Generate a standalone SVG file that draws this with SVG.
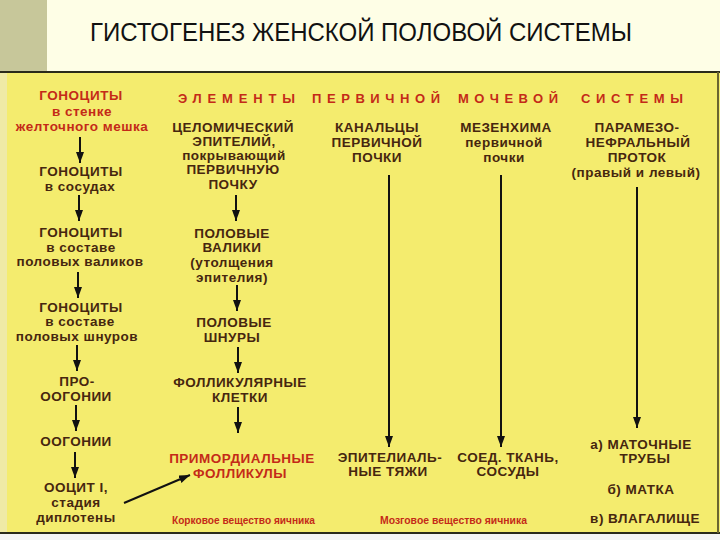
<svg xmlns="http://www.w3.org/2000/svg" width="720" height="540" viewBox="0 0 720 540">
<defs>
<style>
.t{font-family:"Liberation Sans",Arial,sans-serif;font-weight:bold;font-size:13.5px;fill:#46260f;text-anchor:middle;letter-spacing:0.5px}
.r{fill:#c42a18}
.h{font-family:"Liberation Sans",Arial,sans-serif;font-weight:bold;font-size:13px;fill:#c42a18}
.s{font-family:"Liberation Sans",Arial,sans-serif;font-weight:bold;font-size:10px;fill:#c42a18}
.a{stroke:#111;stroke-width:2;fill:none;marker-end:url(#ah)}
</style>
<marker id="ah" markerUnits="userSpaceOnUse" markerWidth="11" markerHeight="8" refX="11" refY="4" orient="auto">
<path d="M0,0 L11,4 L0,8 z" fill="#111"/>
</marker>
</defs>
<rect x="0" y="0" width="720" height="540" fill="#f4f4f4"/>
<rect x="0" y="0" width="720" height="72" fill="#fefee6"/>
<rect x="0" y="0" width="47" height="72" fill="#c7c79a"/>
<text x="90" y="41" textLength="542" lengthAdjust="spacingAndGlyphs" style="font-family:'Liberation Sans',Arial,sans-serif;font-size:26px;fill:#111">ГИСТОГЕНЕЗ ЖЕНСКОЙ ПОЛОВОЙ СИСТЕМЫ</text>
<rect x="0" y="72" width="720" height="461" fill="#f4ec6e"/>
<rect x="0" y="72" width="7" height="461" fill="#efeaa6"/>
<line x1="0" y1="72" x2="720" y2="72" stroke="#2a2a1a" stroke-width="2"/>
<line x1="0" y1="533" x2="720" y2="533" stroke="#2a2a1a" stroke-width="2"/>
<line x1="718" y1="72" x2="718" y2="533" stroke="#6a6530" stroke-width="2"/>

<g id="headers">
<text class="h" x="178" y="103" textLength="117" lengthAdjust="spacing">ЭЛЕМЕНТЫ</text>
<text class="h" x="312" y="103" textLength="128" lengthAdjust="spacing">ПЕРВИЧНОЙ</text>
<text class="h" x="458" y="103" textLength="100" lengthAdjust="spacing">МОЧЕВОЙ</text>
<text class="h" x="581" y="103" textLength="102" lengthAdjust="spacing">СИСТЕМЫ</text>
</g>

<g id="col1">
<text class="t r" x="81" y="100">ГОНОЦИТЫ</text>
<text class="t r" x="82" y="116">в стенке</text>
<text class="t r" x="82" y="131">желточного мешка</text>
<text class="t" x="81" y="176">ГОНОЦИТЫ</text>
<text class="t" x="80" y="191">в сосудах</text>
<text class="t" x="81" y="237">ГОНОЦИТЫ</text>
<text class="t" x="81" y="252">в составе</text>
<text class="t" x="80" y="266">половых валиков</text>
<text class="t" x="81" y="312">ГОНОЦИТЫ</text>
<text class="t" x="80" y="326">в составе</text>
<text class="t" x="77" y="341">половых шнуров</text>
<text class="t" x="77" y="386">ПРО-</text>
<text class="t" x="76" y="401">ООГОНИИ</text>
<text class="t" x="76" y="446">ООГОНИИ</text>
<text class="t" x="76" y="492">ООЦИТ I,</text>
<text class="t" x="76" y="507">стадия</text>
<text class="t" x="76" y="522">диплотены</text>
</g>

<g id="col2">
<text class="t" x="233" y="132">ЦЕЛОМИЧЕСКИЙ</text>
<text class="t" x="234" y="146">ЭПИТЕЛИЙ,</text>
<text class="t" x="234" y="160">покрывающий</text>
<text class="t" x="233" y="174">ПЕРВИЧНУЮ</text>
<text class="t" x="233" y="189">ПОЧКУ</text>
<text class="t" x="232" y="238">ПОЛОВЫЕ</text>
<text class="t" x="232" y="252">ВАЛИКИ</text>
<text class="t" x="232" y="267">(утолщения</text>
<text class="t" x="232" y="282">эпителия)</text>
<text class="t" x="234" y="327">ПОЛОВЫЕ</text>
<text class="t" x="232" y="342">ШНУРЫ</text>
<text class="t" x="240" y="387">ФОЛЛИКУЛЯРНЫЕ</text>
<text class="t" x="240" y="402">КЛЕТКИ</text>
<text class="t r" x="242" y="463">ПРИМОРДИАЛЬНЫЕ</text>
<text class="t r" x="240" y="478">ФОЛЛИКУЛЫ</text>
<text class="s" x="172" y="524" textLength="143" lengthAdjust="spacingAndGlyphs">Корковое вещество яичника</text>
</g>

<g id="col3">
<text class="t" x="377" y="132">КАНАЛЬЦЫ</text>
<text class="t" x="377" y="147">ПЕРВИЧНОЙ</text>
<text class="t" x="377" y="162">ПОЧКИ</text>
<text class="t" x="390" y="462">ЭПИТЕЛИАЛЬ-</text>
<text class="t" x="388" y="476">НЫЕ ТЯЖИ</text>
<text class="s" x="380" y="524" textLength="147" lengthAdjust="spacingAndGlyphs">Мозговое вещество яичника</text>
</g>

<g id="col4">
<text class="t" x="506" y="132">МЕЗЕНХИМА</text>
<text class="t" x="504" y="147">первичной</text>
<text class="t" x="504" y="162">почки</text>
<text class="t" x="508" y="462">СОЕД. ТКАНЬ,</text>
<text class="t" x="508" y="476">СОСУДЫ</text>
</g>

<g id="col5">
<text class="t" x="637" y="132">ПАРАМЕЗО-</text>
<text class="t" x="638" y="147">НЕФРАЛЬНЫЙ</text>
<text class="t" x="637" y="162">ПРОТОК</text>
<text class="t" x="636" y="177">(правый и левый)</text>
<text class="t" x="641" y="449">а) МАТОЧНЫЕ</text>
<text class="t" x="645" y="463">ТРУБЫ</text>
<text class="t" x="641" y="494">б) МАТКА</text>
<text class="t" x="645" y="523">в) ВЛАГАЛИЩЕ</text>
</g>

<g id="connectors">
<line class="a" x1="80" y1="137" x2="80" y2="163"/>
<line class="a" x1="79" y1="195" x2="79" y2="221"/>
<line class="a" x1="78" y1="272" x2="78" y2="298"/>
<line class="a" x1="77" y1="345" x2="77" y2="371"/>
<line class="a" x1="76" y1="405" x2="76" y2="431"/>
<line class="a" x1="75" y1="452" x2="75" y2="478"/>
<line class="a" x1="236" y1="195" x2="236" y2="221"/>
<line class="a" x1="237" y1="285" x2="237" y2="311"/>
<line class="a" x1="238" y1="347" x2="238" y2="373"/>
<line class="a" x1="238" y1="407" x2="238" y2="433"/>
<line class="a" x1="389" y1="175" x2="389" y2="447"/>
<line class="a" x1="501" y1="175" x2="501" y2="447"/>
<line class="a" x1="637" y1="187" x2="637" y2="428"/>
<line class="a" x1="124" y1="503" x2="190" y2="475"/>
</g>
</svg>
